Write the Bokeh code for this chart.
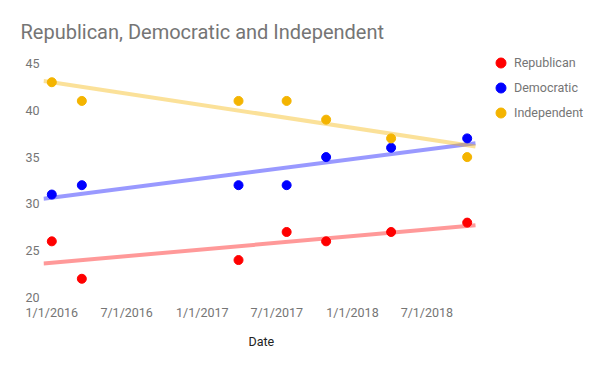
from datetime import datetime
import numpy as np
from bokeh.plotting import figure
from bokeh.models import (ColumnDataSource, Range1d, FixedTicker, CustomJSTickFormatter,
                          Legend, LegendItem, Title)
from bokeh.embed import file_html
from bokeh.resources import INLINE

# ---- data ----
dates = ["2016-01-01", "2016-03-14", "2017-03-30", "2017-07-25",
         "2017-10-29", "2018-04-05", "2018-10-07"]
republican = [26, 22, 24, 27, 26, 27, 28]
democratic = [31, 32, 32, 32, 35, 36, 37]
independent = [43, 41, 41, 41, 39, 37, 35]
series_names = ["Republican", "Democratic", "Independent"]
series_colors = ["#ff0000", "#0000ff", "#f4b400"]
x_tick_dates = ["2016-01-01", "2016-07-01", "2017-01-01", "2017-07-01",
                "2018-01-01", "2018-07-01"]
y_ticks = [20, 25, 30, 35, 40, 45]

x = [datetime.strptime(d, "%Y-%m-%d") for d in dates]
EPOCH = datetime(1970, 1, 1)
def ms(d):
    return (d - EPOCH).total_seconds() * 1000.0

xs_num = np.array([ms(d) for d in x])
span = xs_num[-1] - xs_num[0]
x_start = xs_num[0] - 0.02 * span
x_end = xs_num[-1] + 0.02 * span
# plot area data domain is 432px wide; the frame continues to the right edge (557px)
# so that the legend can sit inside it
x_view_end = x_start + (x_end - x_start) * 557.0 / 432.0

# 234px for the 20..45 tick span, plus headroom for the legend's first row
y_lo, y_hi = y_ticks[0], y_ticks[-1]
y_top = y_lo + (y_hi - y_lo) * 247.0 / 234.0

p = figure(width=600, height=371,
           output_backend="svg", toolbar_location=None,
           min_border_left=43, min_border_right=0,
           min_border_top=50, min_border_bottom=74,
           x_range=Range1d(x_start, x_view_end), y_range=Range1d(y_lo, y_top))
p.outline_line_color = None
p.background_fill_color = "white"
p.border_fill_color = "white"
p.xgrid.visible = False
p.ygrid.visible = False

p.title.text = "Republican, Democratic and Independent"
p.title.text_font = "Roboto"
p.title.text_font_size = "20px"
p.title.text_color = "#757575"
p.title.text_font_style = "normal"
p.title.offset = -23
p.title.standoff = 13

FONT_SIZE = "12.5px"
for ax in (p.xaxis[0], p.yaxis[0]):
    ax.axis_line_color = None
    ax.major_tick_line_color = None
    ax.minor_tick_line_color = None
    ax.major_tick_out = 0
    ax.major_tick_in = 0
    ax.major_label_text_font = "Roboto"
    ax.major_label_text_font_size = FONT_SIZE
    ax.major_label_text_color = "#757575"

p.yaxis.ticker = FixedTicker(ticks=y_ticks)
p.yaxis.major_label_standoff = 4

p.xaxis.bounds = (x_start, x_end)
p.xaxis.ticker = FixedTicker(ticks=[ms(datetime.strptime(d, "%Y-%m-%d")) for d in x_tick_dates])
p.xaxis.formatter = CustomJSTickFormatter(code="""
const d = new Date(tick);
return (d.getUTCMonth()+1) + '/' + d.getUTCDate() + '/' + d.getUTCFullYear();
""")
p.xaxis.major_label_standoff = 7

# x-axis title, centred under the 432px data domain
x_title = Title(text="Date", align="left", offset=205, standoff=19,
                text_font="Roboto", text_font_size=FONT_SIZE,
                text_font_style="normal", text_color="#222222")
p.add_layout(x_title, "below")

for name, vals, color in zip(series_names, [republican, democratic, independent], series_colors):
    slope, intercept = np.polyfit(xs_num, np.array(vals, dtype=float), 1)
    tx = [x_start, x_end]
    ty = [slope * t + intercept for t in tx]
    p.line(tx, ty, line_color=color, line_alpha=0.4, line_width=4)

items = []
for name, vals, color in zip(series_names, [republican, democratic, independent], series_colors):
    src = ColumnDataSource(dict(x=xs_num, y=vals))
    r = p.scatter("x", "y", source=src, size=9, fill_color=color, line_color=color)
    items.append(LegendItem(label=name, renderers=[r]))

legend = Legend(items=items, location=(445, 172), margin=0, padding=0,
                glyph_width=25, glyph_height=25, spacing=0, label_standoff=1,
                label_text_font="Roboto", label_text_font_size=FONT_SIZE,
                label_text_color="#757575", border_line_color=None,
                background_fill_alpha=0)
p.add_layout(legend, "center")

open("out.html", "w").write(file_html(p, INLINE))
